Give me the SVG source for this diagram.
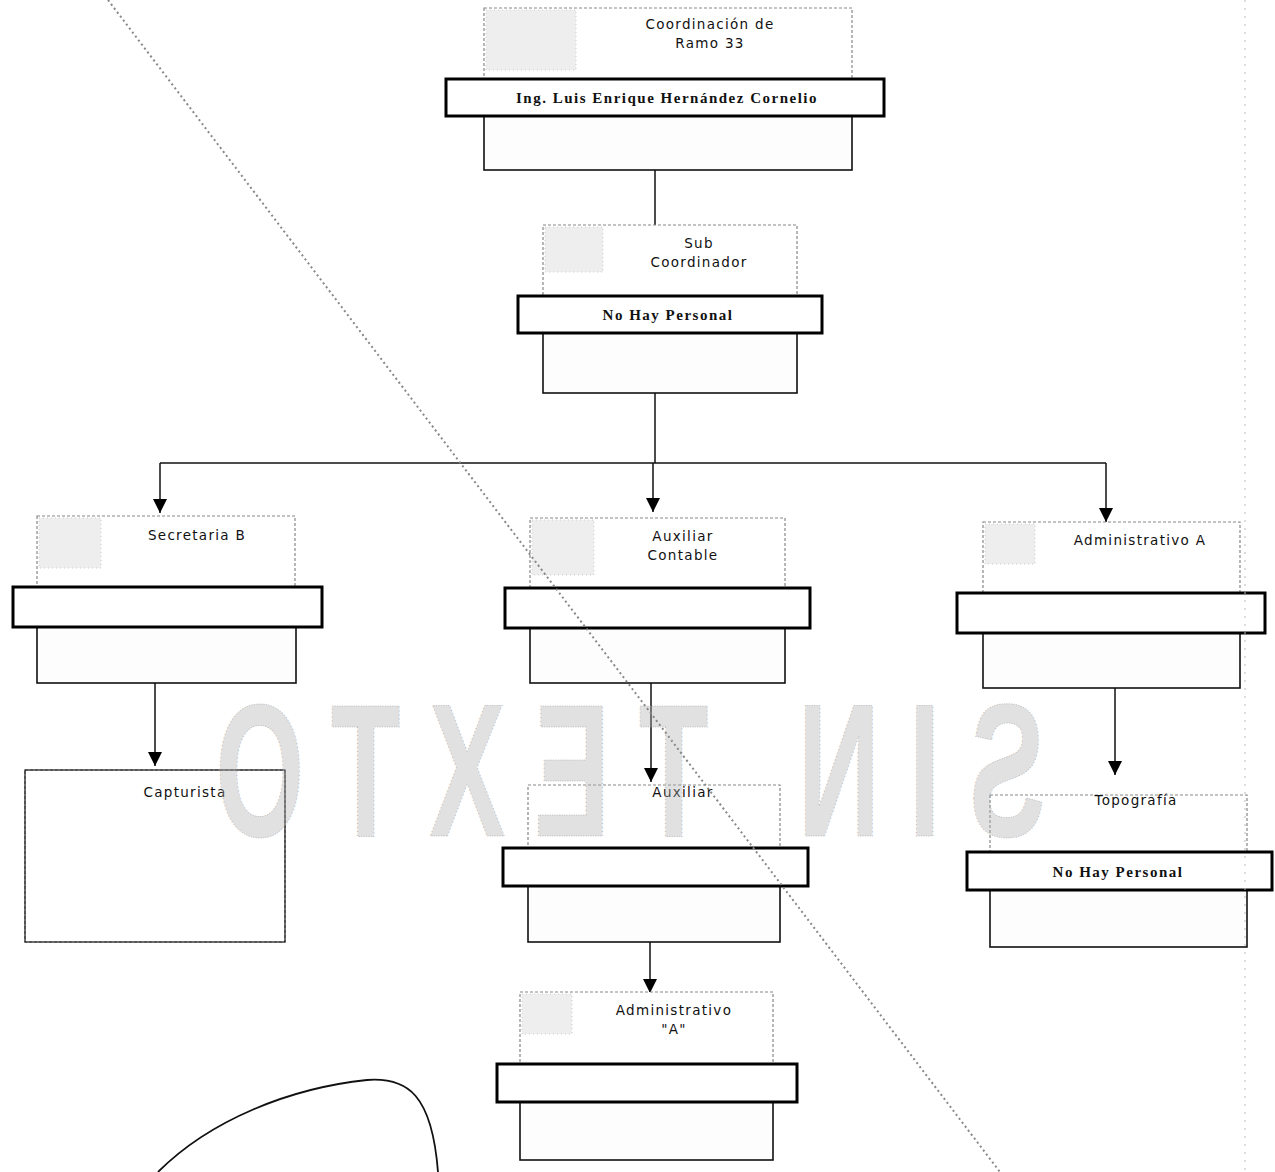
<svg xmlns="http://www.w3.org/2000/svg" width="1275" height="1172" viewBox="0 0 1275 1172">
<style>
.bg{fill:#fff}
.up{fill:#fff;stroke:#888;stroke-width:1.2;stroke-dasharray:3 2}
.low{fill:#fdfdfd;stroke:#111;stroke-width:1.6}
.bar{fill:#fff;stroke:#000;stroke-width:3}
.lbl{font-family:"DejaVu Sans","Verdana",sans-serif;font-size:13.5px;letter-spacing:1.3px;fill:#111;text-anchor:middle}
.nm{font-family:"Liberation Serif","Times New Roman",serif;font-size:15px;letter-spacing:1.5px;font-weight:bold;fill:#111;text-anchor:middle}
.ln{fill:none;stroke:#111;stroke-width:1.5}
.stip{fill:#eee;stroke:#ccc;stroke-width:1;stroke-dasharray:1 3}
</style>
<defs>
<marker id="ah" viewBox="0 0 14 14" refX="7" refY="14" markerWidth="14" markerHeight="14" markerUnits="userSpaceOnUse" orient="0">
<path d="M0,0 L14,0 L7,14 z" fill="#000"/>
</marker>
</defs>
<rect class="bg" x="0" y="0" width="1275" height="1172"/>

<g id="connectors">
<line class="ln" x1="655" y1="170" x2="655" y2="225"/>
<line class="ln" x1="655" y1="393" x2="655" y2="463"/>
<line class="ln" x1="160" y1="463" x2="1106" y2="463"/>
<line class="ln" x1="160" y1="463" x2="160" y2="513" marker-end="url(#ah)"/>
<line class="ln" x1="653" y1="463" x2="653" y2="512" marker-end="url(#ah)"/>
<line class="ln" x1="1106" y1="463" x2="1106" y2="522" marker-end="url(#ah)"/>
<line class="ln" x1="155" y1="683" x2="155" y2="766" marker-end="url(#ah)"/>
<line class="ln" x1="651" y1="683" x2="651" y2="782" marker-end="url(#ah)"/>
<line class="ln" x1="1115" y1="688" x2="1115" y2="775" marker-end="url(#ah)"/>
<line class="ln" x1="650" y1="942" x2="650" y2="993" marker-end="url(#ah)"/>
</g>

<g id="n-coordinacion">
<rect class="up" x="484" y="8" width="368" height="71"/>
<rect class="stip" x="486" y="10" width="90" height="60"/>
<rect class="low" x="484" y="116" width="368" height="54"/>
<rect class="bar" x="446" y="79" width="438" height="37"/>
<text class="lbl" x="710" y="29">Coordinación de</text>
<text class="lbl" x="710" y="48">Ramo 33</text>
<text class="nm" x="667" y="103">Ing. Luis Enrique Hernández Cornelio</text>
</g>

<g id="n-subcoordinador">
<rect class="up" x="543" y="225" width="254" height="71"/>
<rect class="stip" x="545" y="227" width="58" height="45"/>
<rect class="low" x="543" y="333" width="254" height="60"/>
<rect class="bar" x="518" y="296" width="304" height="37"/>
<text class="lbl" x="699" y="248">Sub</text>
<text class="lbl" x="699" y="267">Coordinador</text>
<text class="nm" x="668" y="320">No Hay Personal</text>
</g>

<g id="n-secretaria">
<rect class="up" x="37" y="516" width="258" height="71"/>
<rect class="stip" x="39" y="518" width="62" height="50"/>
<rect class="low" x="37" y="627" width="259" height="56"/>
<rect class="bar" x="13" y="587" width="309" height="40"/>
<text class="lbl" x="197" y="540">Secretaria B</text>
</g>

<g id="n-auxcontable">
<rect class="up" x="530" y="518" width="255" height="70"/>
<rect class="stip" x="532" y="520" width="62" height="55"/>
<rect class="low" x="530" y="628" width="255" height="55"/>
<rect class="bar" x="505" y="588" width="305" height="40"/>
<text class="lbl" x="683" y="541">Auxiliar</text>
<text class="lbl" x="683" y="560">Contable</text>
</g>

<g id="n-administrativoA">
<rect class="up" x="983" y="522" width="257" height="71"/>
<rect class="stip" x="985" y="524" width="50" height="40"/>
<rect class="low" x="983" y="633" width="257" height="55"/>
<rect class="bar" x="957" y="593" width="308" height="40"/>
<text class="lbl" x="1140" y="545">Administrativo A</text>
</g>

<g id="n-capturista">
<rect class="up" x="25" y="770" width="260" height="172"/>
<rect class="low" x="25" y="770" width="260" height="172" style="fill:none;stroke-width:1.2"/>
<text class="lbl" x="185" y="797">Capturista</text>
</g>

<g id="n-auxiliar">
<rect class="up" x="528" y="785" width="252" height="63"/>
<rect class="low" x="528" y="886" width="252" height="56"/>
<rect class="bar" x="503" y="848" width="305" height="38"/>
<text class="lbl" x="683" y="797">Auxiliar</text>
</g>

<g id="n-topografia">
<rect class="up" x="990" y="795" width="257" height="57"/>
<rect class="low" x="990" y="890" width="257" height="57"/>
<rect class="bar" x="967" y="852" width="305" height="38"/>
<text class="lbl" x="1136" y="805">Topografía</text>
<text class="nm" x="1118" y="877">No Hay Personal</text>
</g>

<g id="n-administrativo2">
<rect class="up" x="520" y="992" width="253" height="72"/>
<rect class="stip" x="522" y="994" width="50" height="40"/>
<rect class="low" x="520" y="1102" width="253" height="58"/>
<rect class="bar" x="497" y="1064" width="300" height="38"/>
<text class="lbl" x="674" y="1015">Administrativo</text>
<text class="lbl" x="674" y="1034">"A"</text>
</g>

<!-- watermark (mirrored) -->
<g id="watermark" transform="translate(1260,0) scale(-0.6,1)">
<text x="358" y="836" textLength="1383" lengthAdjust="spacing" font-family="Liberation Sans, Arial, sans-serif" font-weight="bold" font-size="190" fill="#b0b0b0" fill-opacity="0.4" stroke="#a0a0a0" stroke-width="1" stroke-dasharray="1 3">SIN TEXTO</text>
</g>

<!-- scan artifacts -->
<g id="artifacts">
<line x1="108" y1="0" x2="1000" y2="1172" stroke="#888" stroke-width="2" stroke-dasharray="2 3"/>
<line x1="1245" y1="0" x2="1245" y2="1172" stroke="#bbb" stroke-width="1" stroke-dasharray="2 6"/>
<path d="M158,1172 C210,1120 290,1088 367,1080 C408,1077 432,1095 438,1172" fill="none" stroke="#111" stroke-width="1.8"/>
</g>
</svg>
